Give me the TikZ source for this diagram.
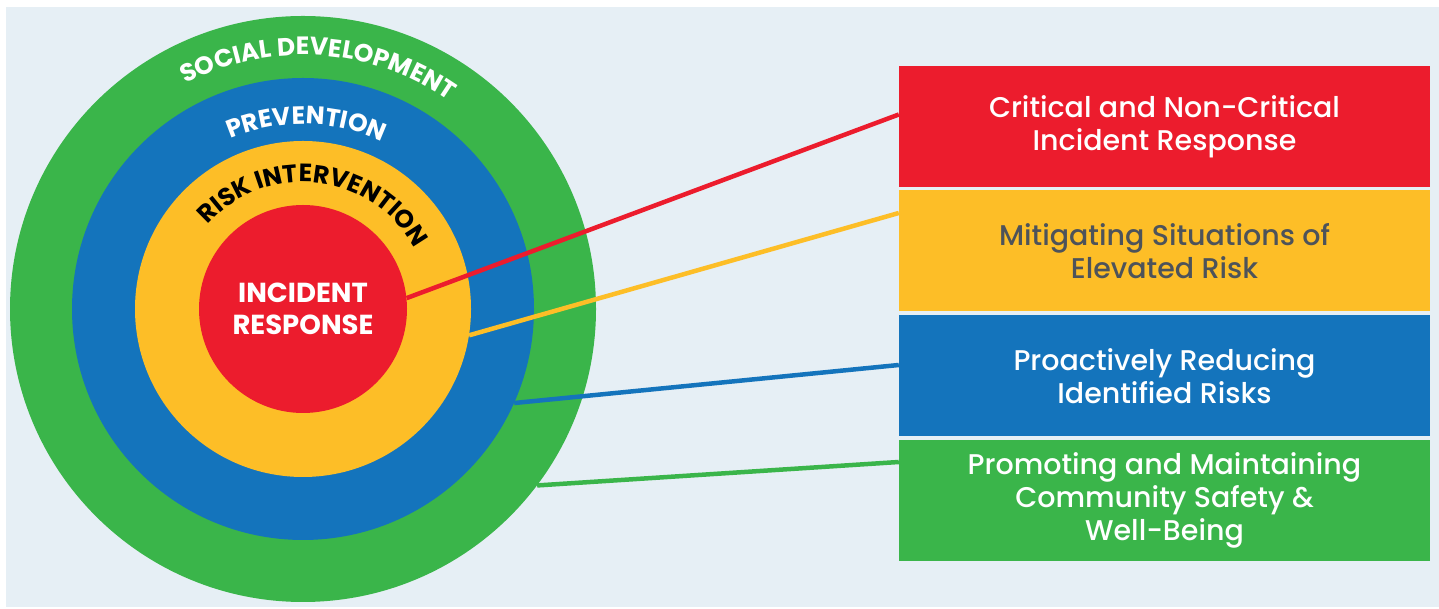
\documentclass[tikz,border=0pt]{standalone}
\usepackage{fontspec}
\setmainfont{Poppins}
\newfontfamily\medfont{Poppins Medium}
\usetikzlibrary{decorations.text}
\definecolor{bg}{HTML}{E6EFF5}
\definecolor{cred}{HTML}{EC1C2D}
\definecolor{cyel}{HTML}{FDBE27}
\definecolor{cblue}{HTML}{1474BC}
\definecolor{cgreen}{HTML}{3AB54A}
\definecolor{cgray}{HTML}{4D535A}
\begin{document}
\begin{tikzpicture}[x=1pt,y=1pt,
  ring/.style={circle,inner sep=0pt,minimum size=#1},
  box/.style={rectangle,minimum width=531pt,minimum height=121pt,inner sep=0pt,
    align=center,font=\medfont\fontsize{28.5}{33}\selectfont,text=white},
  link/.style={line width=4.5pt},
  arctext/.style 2 args={decorate,decoration={text along path,text align=center,
    text color=#1,text={|\bfseries\fontsize{25}{25}\selectfont|#2}}}]
\useasboundingbox (0,0) rectangle (1439,609);
\fill[white] (0,0) rectangle (1439,609);
\fill[bg] (6,2) rectangle (1439,602);
% rings
\node[ring=586pt,fill=cgreen] (gc) at (303,300) {};
\node[ring=462pt,fill=cblue] (bc) at (303,300) {};
\node[ring=336pt,fill=cyel] (yc) at (303,300) {};
\node[ring=208pt,fill=cred,text=white,align=center,
  font=\bfseries\fontsize{27.5}{32}\selectfont] (rc) at (303,300) {INCIDENT\\RESPONSE};
% boxes
\node[box,fill=cred] (rb) at (1164.5,482.5) {Critical and Non-Critical\\Incident Response};
\node[box,fill=cyel,text=cgray] (yb) at (1164.5,358) {Mitigating Situations of\\Elevated Risk};
\node[box,fill=cblue] (bb) at (1164.5,233) {Proactively Reducing\\Identified Risks};
\node[box,fill=cgreen] (gb) at (1164.5,108.5) {Promoting and Maintaining\\Community Safety \&\\Well-Being};
% connectors
\draw[link,cred] (rc.6.5) -- ([yshift=12pt]rb.west);
\draw[link,cyel] (yc.-9.5) -- ([yshift=38pt]yb.west);
\draw[link,cblue] (bc.-24.3) -- ([yshift=11pt]bb.west);
\draw[link,cgreen] (gc.-37.7) -- ([yshift=38.5pt]gb.west);
% arc labels
\path[arctext={white}{SOCIAL DEVELOPMENT}] (303,300) ++(146.3:254pt) arc[start angle=146.3,end angle=26.3,radius=254pt];
\path[arctext={white}{PREVENTION}] (303,300) ++(148.9:185pt) arc[start angle=148.9,end angle=28.9,radius=185pt];
\path[arctext={black}{RISK INTERVENTION}] (303,300) ++(163.4:127pt) arc[start angle=163.4,end angle=3.4,radius=127pt];
\end{tikzpicture}
\end{document}
